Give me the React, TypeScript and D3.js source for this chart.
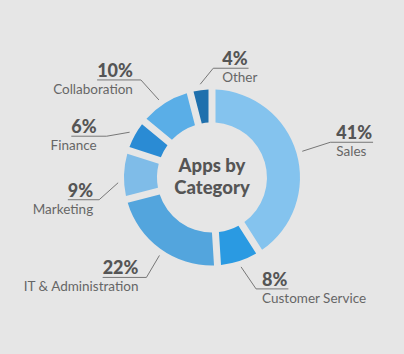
import React, { useEffect, useRef } from "react";
import * as d3 from "d3";

const categories = ["Sales", "Customer Service", "IT & Administration", "Marketing", "Finance", "Collaboration", "Other"];
const values = [41, 8, 22, 9, 6, 10, 4];
const colors = ["#84c3ee", "#2a9ae2", "#53a5dd", "#7fbce8", "#2a8bd4", "#5aaee7", "#1f70ad"];
const centerTitle = ["Apps by", "Category"];

// label layout: leader angle nudge (deg), elbow offset from leader start, text gap, side
const labelLayout = [
  { da: 0, dx: 28, dy: -9, gap: 6, side: "right" },
  { da: 0, dx: 15, dy: 22, gap: 6, side: "right" },
  { da: -2, dx: -13, dy: 22, gap: 8, side: "left" },
  { da: -5, dx: -19, dy: 17, gap: 6, side: "left" },
  { da: 0, dx: -23, dy: 4, gap: 10, side: "left" },
  { da: -2, dx: -18, dy: -20, gap: 8, side: "left" },
  { da: 0, dx: 13, dy: -16, gap: 9, side: "right" },
];

const W = 404, H = 354;
const cx = 212, cy = 177.5;
const R = 88, r = 55;

export default function App() {
  const ref = useRef<SVGSVGElement>(null);
  useEffect(() => {
    const svg = d3.select(ref.current);
    svg.selectAll("*").remove();
    svg.append("rect").attr("width", W).attr("height", H).attr("fill", "#e6e6e6");
    const g = svg.append("g").attr("transform", `translate(${cx},${cy})`);
    const pie = d3.pie<number>().sort(null).value((d) => d)(values);
    const arc = d3.arc<d3.PieArcDatum<number>>().innerRadius(r).outerRadius(R).padAngle(7 / R).padRadius(R);
    g.selectAll("path.slice").data(pie).enter().append("path")
      .attr("class", "slice").attr("d", arc as any).attr("fill", (_d, i) => colors[i]);

    const font = "Lato, 'Open Sans', sans-serif";
    pie.forEach((p, i) => {
      const L = labelLayout[i];
      const mid = (p.startAngle + p.endAngle) / 2 + (L.da * Math.PI) / 180;
      const rr = R + 6;
      const sx = Math.sin(mid) * rr;
      const sy = -Math.cos(mid) * rr;
      const ex = sx + L.dx, ey = sy + L.dy;
      const pct = g.append("text").text(values[i] + "%")
        .attr("font-family", font).attr("font-weight", 900).attr("font-size", 18)
        .attr("fill", "#555").attr("y", ey - 3);
      const name = g.append("text").text(categories[i])
        .attr("font-family", font).attr("font-size", 13.5)
        .attr("fill", "#666").attr("y", ey + 14);
      const pw = (pct.node() as SVGTextElement).getComputedTextLength();
      let ux0: number, ux1: number;
      if (L.side === "right") {
        pct.attr("x", ex + L.gap);
        name.attr("x", ex + L.gap);
        ux0 = ex; ux1 = ex + L.gap + pw + 1;
      } else {
        pct.attr("x", ex - L.gap).attr("text-anchor", "end");
        name.attr("x", ex - L.gap).attr("text-anchor", "end");
        ux0 = ex - L.gap - pw; ux1 = ex;
      }
      const pts: [number, number][] = L.side === "right"
        ? [[sx, sy], [ex, ey], [ux1, ey]]
        : [[sx, sy], [ex, ey], [ux0, ey]];
      g.append("path").attr("d", d3.line()(pts)!).attr("fill", "none")
        .attr("stroke", "#777").attr("stroke-width", 1);
    });

    centerTitle.forEach((t, i) => {
      g.append("text").text(t).attr("text-anchor", "middle")
        .attr("y", -6 + i * 22).attr("font-family", font).attr("font-weight", 900)
        .attr("font-size", 18.5).attr("fill", "#555");
    });
  }, []);
  return (
    <svg ref={ref} width={W} height={H} style={{ position: "absolute", left: 0, top: 0 }} />
  );
}
